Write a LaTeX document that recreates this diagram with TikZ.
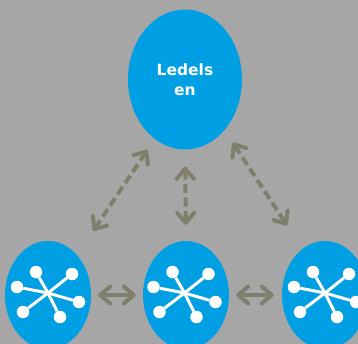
\documentclass[tikz,border=0pt]{standalone}
\usepackage{fontspec}
\setmainfont{DejaVu Sans}
\usetikzlibrary{arrows.meta,shapes.geometric,calc}
\definecolor{bluefill}{HTML}{009FE3}
\definecolor{greybg}{HTML}{A6A6A6}
\definecolor{olivearrow}{HTML}{7F7F6B}
\tikzset{blob/.style={shape=ellipse,fill=bluefill,inner sep=0pt,minimum width=86pt,minimum height=108pt}}
\tikzset{lead/.style={blob,minimum width=114pt,minimum height=140pt,align=center,text=white,font=\bfseries\fontsize{15.5}{19.5}\selectfont}}
\tikzset{dot/.style={shape=circle,fill=white,inner sep=0pt,minimum size=12.5pt}}
\tikzset{spoke/.style={draw=white,line width=3pt}}
\tikzset{link/.style={draw=olivearrow,line width=4pt,{Straight Barb[length=10pt,width=17pt,round]}-{Straight Barb[length=10pt,width=17pt,round]}}}
\tikzset{dashlink/.style={link,dash pattern=on 9pt off 4.5pt}}

\begin{document}
\begin{tikzpicture}[x=1pt,y=-1pt]
        \fill[greybg] (0,0) rectangle (358,344);
        \clip (0,0) rectangle (358,344);
        \node[lead] (ledelsen) at (185,79.5) {Ledels\\en};
        \node[blob] (hub1) at (48,295) {};
        \node[blob] (hub2) at (186,295) {};
        \node[blob] (hub3) at (325,295) {};
        % spokes of each hub
        \foreach \h/\ox in {hub1/0,hub2/-1.5,hub3/0} {
            \coordinate (\h-mid) at ($(\h)+(\ox,-2)$);
            \foreach \n/\dx/\dy in {a/-12/-21,b/24/-19,c/-31/-6,d/31/9,e/-25/19,f/12/24} {
                \node[dot] (\h\n) at ($(\h-mid)+(\dx,\dy)$) {};
                \draw[spoke] (\h-mid) -- (\h\n);
            }
        }
        \draw[dashlink,shorten <=13pt,shorten >=29pt] (ledelsen.243) -- (hub1.54);
        \draw[dashlink,shorten <=17pt,shorten >=16pt] (ledelsen.south) -- (hub2.north);
        \draw[dashlink,shorten <=15pt,shorten >=28pt] (ledelsen.308) -- (hub3.116);
        \draw[link,shorten <=7pt,shorten >=7pt] (hub1.east) -- (hub2.west);
        \draw[link,shorten <=7pt,shorten >=8pt] (hub2.east) -- (hub3.west);
\end{tikzpicture}
\end{document}
